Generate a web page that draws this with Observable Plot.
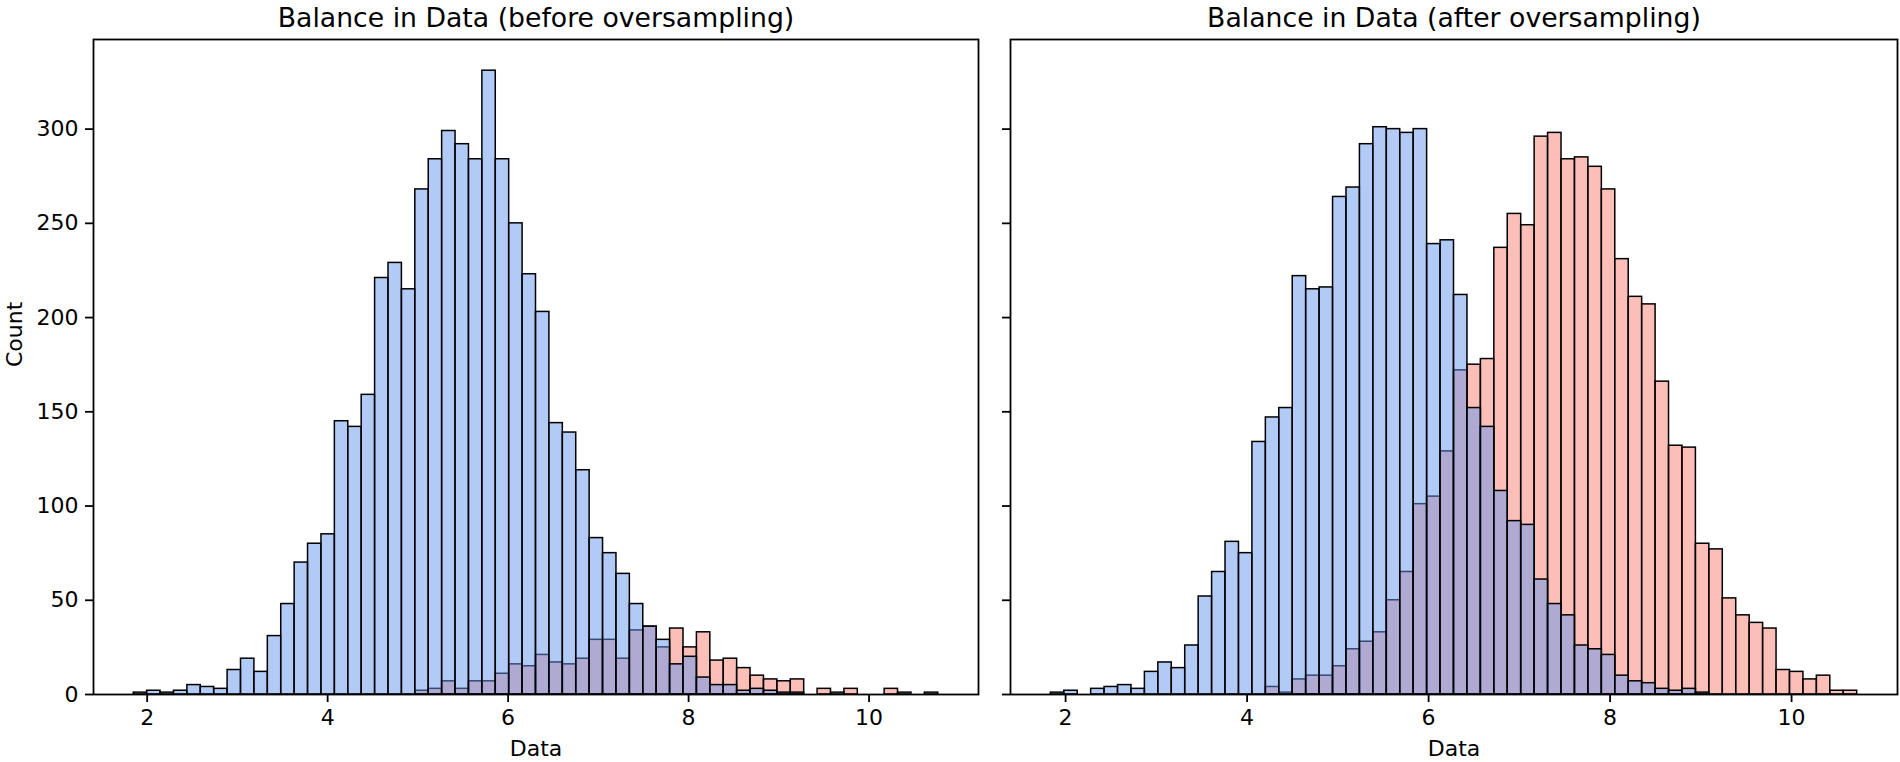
<!DOCTYPE html>
<html>
<head>
<meta charset="utf-8">
<script src="https://cdn.jsdelivr.net/npm/d3@7"></script>
<script src="https://cdn.jsdelivr.net/npm/@observablehq/plot@0.6"></script>
<style>
  html, body { margin: 0; padding: 0; background: #fff; }
  #wrap { position: relative; width: 1900px; height: 762px; overflow: hidden; background: #fff; }
  #wrap > svg { position: absolute; top: 0; }
</style>
</head>
<body>
<div id="wrap"></div>
<script>
// ---- data (counts per histogram bin) ----
const titles = ["Balance in Data (before oversampling)", "Balance in Data (after oversampling)"];
const xLabel = "Data";
const yLabel = "Count";
const xTicks = [2, 4, 6, 8, 10];
const yTicks = [0, 50, 100, 150, 200, 250, 300];

// bin layout of each panel (seaborn auto bins, shared by both classes)
const beforeBinStart = 1.851, beforeBinWidth = 0.1486;
const afterBinStart = 1.837, afterBinWidth = 0.1481;

const blueBefore = [1, 2, 1, 2, 5, 4, 3, 13, 19, 12, 31, 48, 70, 80, 85, 145, 142, 159, 221, 229,
  215, 268, 284, 299, 292, 284, 331, 284, 250, 223, 203, 144, 139, 119, 83, 75, 64, 48, 36, 29,
  16, 20, 9, 5, 5, 2, 3, 2, 1, 1, 0, 0, 1, 0, 0, 0, 0, 1, 0, 1];
const redBefore = [0, 0, 0, 0, 0, 0, 0, 0, 0, 0, 0, 0, 0, 0, 0, 0, 0, 0, 0, 0,
  0, 2, 3, 7, 3, 7, 7, 11, 16, 15, 21, 17, 16, 19, 29, 29, 19, 34, 36, 25,
  35, 25, 33, 18, 19, 14, 10, 8, 7, 8, 0, 3, 0, 3, 0, 0, 3, 0, 0, 0];

const blueAfter = [1, 2, 0, 3, 4, 5, 3, 12, 17, 14, 26, 52, 65, 81, 75, 134, 147, 152, 222, 215,
  216, 264, 269, 292, 301, 300, 298, 300, 239, 241, 212, 152, 142, 108, 92, 90, 61, 48, 42, 26,
  24, 21, 10, 7, 6, 3, 2, 3, 1, 0, 0, 0, 0, 0, 0, 0, 0, 0, 0, 0];
const redAfter = [0, 0, 0, 0, 0, 0, 0, 0, 0, 0, 0, 0, 0, 0, 0, 0, 4, 1, 8, 10,
  10, 15, 24, 28, 33, 50, 65, 101, 105, 129, 172, 175, 178, 237, 255, 249, 296, 298, 284, 285,
  280, 268, 231, 211, 207, 166, 132, 131, 80, 77, 51, 42, 38, 35, 13, 12, 8, 10, 2, 2];

const blueColor = "#6495ED";
const redColor = "#FA8072";

function bins(counts, start, width) {
  return counts.map((c, i) => ({x1: start + i * width, x2: start + (i + 1) * width, count: c}));
}

function panel({blue, red, start, width, title, showYLabels, w, ml, mr}) {
  const lo = start, hi = start + blue.length * width;
  const pad = (hi - lo) * 0.05;
  const yMax = 331 * 1.05;
  const barOpts = (fill) => ({
    x1: "x1", x2: "x2", y: "count",
    fill, fillOpacity: 0.5, stroke: "#000", strokeWidth: 1.5
  });
  const marks = [
    Plot.rectY(bins(red, start, width), barOpts(redColor)),
    Plot.rectY(bins(blue, start, width), barOpts(blueColor)),
    Plot.axisX(xTicks, {tickSize: 8, tickPadding: 7, fontSize: 22, strokeWidth: 1.8, label: null}),
    showYLabels
      ? Plot.axisY(yTicks, {tickSize: 8, tickPadding: 7, fontSize: 22, strokeWidth: 1.8, label: null})
      : Plot.axisY(yTicks, {tickSize: 8, tickFormat: () => "", strokeWidth: 1.8, label: null}),
    Plot.frame({stroke: "#000", strokeWidth: 1.8}),
    Plot.text([title], {frameAnchor: "top", lineAnchor: "bottom", dy: -13, fontSize: 26.7, fill: "#000"}),
    Plot.text([xLabel], {frameAnchor: "bottom", lineAnchor: "bottom", dy: 61, fontSize: 22, fill: "#000"})
  ];
  if (showYLabels) {
    marks.push(Plot.text([yLabel], {frameAnchor: "left", lineAnchor: "bottom", rotate: -90, dx: -72, fontSize: 22, fill: "#000"}));
  }
  return Plot.plot({
    width: w,
    height: 762,
    marginLeft: ml,
    marginRight: mr,
    marginTop: 39,
    marginBottom: 68,
    x: {domain: [lo - pad, hi + pad], label: null},
    y: {domain: [0, yMax], label: null},
    style: {fontFamily: "DejaVu Sans", fontSize: "22px", color: "#000", background: "#fff", overflow: "visible"},
    marks
  });
}

const wrap = document.getElementById("wrap");
const left = panel({blue: blueBefore, red: redBefore, start: beforeBinStart, width: beforeBinWidth,
  title: titles[0], showYLabels: true, w: 990, ml: 93, mr: 12});
left.style.left = "0px";
const right = panel({blue: blueAfter, red: redAfter, start: afterBinStart, width: afterBinWidth,
  title: titles[1], showYLabels: false, w: 910, ml: 20, mr: 3});
right.style.left = "990px";
wrap.appendChild(left);
wrap.appendChild(right);
</script>
</body>
</html>
